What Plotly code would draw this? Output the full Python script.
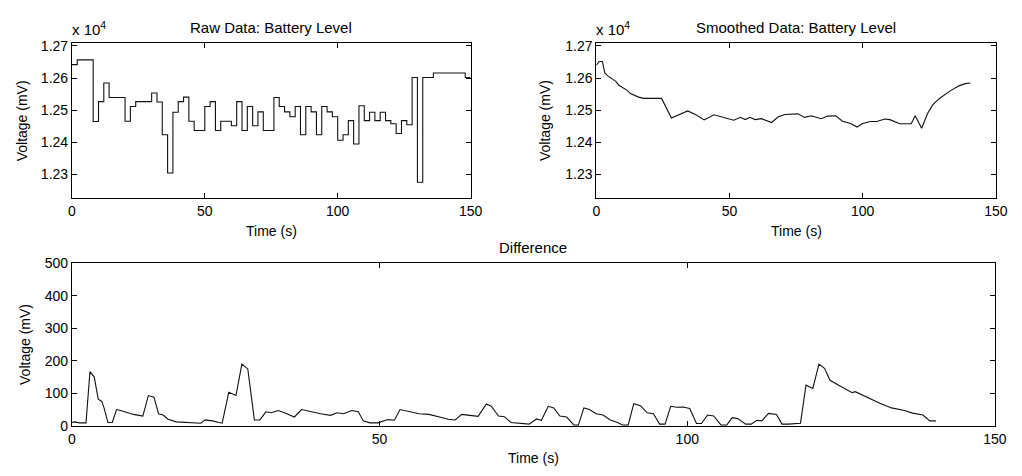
import plotly.graph_objects as go

# ---------------- data ----------------
raw_t = [0, 2, 8, 10, 12, 14, 20, 22, 24, 30, 32, 34, 36, 38, 40, 42, 44, 46, 50, 52,
         54, 56, 60, 62, 64, 66, 68, 70, 72, 76, 78, 80, 82, 84, 86, 88, 90, 92, 94, 96,
         98, 100, 102, 104, 106, 108, 110, 112, 114, 116, 118, 120, 122, 124, 126, 128,
         130, 132, 136, 148, 150]
raw_v = [12642, 12657, 12465, 12527, 12585, 12540, 12466, 12512, 12527, 12554, 12526,
         12424, 12305, 12494, 12527, 12541, 12466, 12437, 12512, 12527, 12437, 12466,
         12452, 12527, 12437, 12512, 12452, 12495, 12437, 12540, 12512, 12495, 12480,
         12512, 12424, 12512, 12495, 12424, 12512, 12495, 12480, 12407, 12424, 12468,
         12395, 12514, 12468, 12494, 12468, 12494, 12468, 12458, 12428, 12468, 12455,
         12602, 12276, 12602, 12616, 12602, 12602]

smooth_t = [0, 1.1, 2.3, 3.2, 4.2, 6.0, 7.3, 8.5, 10.3, 11.6, 12.8, 14.0, 15.9, 17.7,
            20.8, 24.5, 28.2, 31.3, 34.3, 37.4, 40.5, 44.2, 47.3, 51.6, 54.1, 55.9, 57.7,
            59.6, 62.0, 65.8, 68.3, 70.8, 75.7, 78.2, 80.7, 84.4, 86.8, 89.9, 92.4, 95.4,
            97.9, 99.8, 102.8, 105.3, 108.3, 110.2, 113.9, 118.2, 119.7, 122.1, 124.4,
            126.2, 128.7, 132.4, 136.1, 138.5, 140.4]
smooth_v = [12640, 12652, 12652, 12616, 12608, 12598, 12590, 12578, 12569, 12562, 12552,
            12547, 12541, 12537, 12537, 12537, 12476, 12488, 12498, 12486, 12470, 12486,
            12478, 12469, 12478, 12471, 12478, 12471, 12474, 12462, 12480, 12487, 12489,
            12478, 12483, 12474, 12482, 12483, 12466, 12459, 12448, 12458, 12465, 12465,
            12473, 12471, 12458, 12458, 12483, 12444, 12491, 12516, 12536, 12558, 12576,
            12583, 12585]

diff_t = [0, 0.43, 1.23, 2.29, 2.93, 3.63, 4.27, 4.85, 5.22, 5.86, 6.56, 7.25, 7.89, 8.96,
          10.02, 11.52, 12.42, 13.33, 14.08, 14.82, 15.62, 16.96, 19.36, 20.96, 21.65,
          22.82, 24.42, 25.49, 26.66, 27.62, 28.58, 29.65, 30.55, 31.51, 32.42, 33.49,
          34.55, 36.15, 37.32, 38.82, 40.42, 42.02, 43.09, 44.15, 45.48, 46.55, 47.35,
          48.42, 49.75, 51.35, 52.42, 53.32, 54.82, 56.42, 58.02, 59.61, 61.21, 62.28,
          63.35, 64.68, 66.01, 67.35, 68.15, 69.32, 70.28, 71.35, 72.95, 74.3, 75.5,
          76.3, 77.4, 78.3, 79.3, 80.4, 81.6, 82.3, 83.2, 84.1, 85.2, 86.3, 87.5, 88.7,
          89.5, 90.4, 91.3, 92.4, 93.5, 94.5, 95.5, 96.4, 97.3, 98.3, 99.3, 100.4, 101.5,
          102.3, 103.3, 104.3, 105.5, 106.4, 107.3, 108.2, 109.5, 110.4, 111.3, 112.1,
          113.2, 114.5, 115.4, 116.4, 118.4, 119.3, 120.4, 121.4, 122.3, 123.2, 124.9,
          126.8, 127.3, 128.1, 130.0, 131.3, 133.2, 135.3, 136.6, 138.3, 139.4, 140.4]
diff_v = [10, 12, 9, 9, 167, 150, 82, 75, 55, 10, 10, 50, 47, 40, 35, 30, 93, 88, 37, 33,
          20, 12, 10, 8, 18, 15, 8, 103, 93, 190, 175, 18, 18, 43, 40, 47, 40, 27, 50, 43,
          37, 32, 40, 37, 47, 43, 15, 9, 9, 19, 17, 50, 43, 37, 35, 28, 20, 18, 35, 32, 29,
          67, 60, 30, 28, 10, 8, 5, 21, 17, 60, 55, 30, 27, 2, 2, 55, 50, 37, 33, 18, 10,
          2, 2, 68, 62, 40, 37, 5, 5, 60, 57, 58, 53, 7, 7, 33, 30, 2, 2, 25, 22, 5, 5, 17,
          15, 38, 35, 5, 5, 8, 125, 115, 190, 177, 140, 122, 102, 105, 98, 80, 69, 55, 47,
          39, 33, 15, 15]

x_ticks = [0, 50, 100, 150]
top_y_ticks = [12300, 12400, 12500, 12600, 12700]
top_y_labels = ["1.23", "1.24", "1.25", "1.26", "1.27"]
diff_y_ticks = [0, 100, 200, 300, 400, 500]

titles = ["Raw Data: Battery Level", "Smoothed Data: Battery Level", "Difference"]

# ---------------- figure ----------------
W, H = 1022, 476
FONT = "Liberation Sans, Arial, Helvetica, sans-serif"


def px(x):
    return x / W


def py(y):
    return 1 - y / H


line = dict(color="#111111", width=1.1)
fig = go.Figure()
fig.add_trace(go.Scatter(x=raw_t, y=raw_v, mode="lines", line=dict(shape="hv", **line),
                         xaxis="x", yaxis="y", showlegend=False))
fig.add_trace(go.Scatter(x=smooth_t, y=smooth_v, mode="lines", line=line,
                         xaxis="x2", yaxis="y2", showlegend=False))
fig.add_trace(go.Scatter(x=diff_t, y=diff_v, mode="lines", line=line,
                         xaxis="x3", yaxis="y3", showlegend=False))

axis_common = dict(showline=True, linecolor="black", linewidth=1, mirror="ticks",
                   ticks="inside", ticklen=5, tickcolor="black", tickwidth=1,
                   showgrid=False, zeroline=False,
                   tickfont=dict(family=FONT, size=14, color="black"))

top_dom_y = [py(197), py(36)]
bot_dom_y = [py(432.3), py(264.3)]

fig.update_layout(
    width=W, height=H,
    margin=dict(l=0, r=0, t=0, b=0),
    paper_bgcolor="white", plot_bgcolor="white",
    font=dict(family=FONT, size=14, color="black"),
    xaxis=dict(domain=[px(69), px(474)], range=[0, 150], tickvals=x_ticks,
               anchor="y", **axis_common),
    yaxis=dict(domain=top_dom_y, range=[12226, 12710], tickvals=top_y_ticks,
               ticktext=top_y_labels, anchor="x", **axis_common),
    xaxis2=dict(domain=[px(601.7), px(1007.7)], range=[0, 150], tickvals=x_ticks,
                anchor="y2", **axis_common),
    yaxis2=dict(domain=top_dom_y, range=[12226, 12710], tickvals=top_y_ticks,
                ticktext=top_y_labels, anchor="x2", **axis_common),
    xaxis3=dict(domain=[px(69), px(1006.7)], range=[0, 150], tickvals=x_ticks,
                anchor="y3", **axis_common),
    yaxis3=dict(domain=bot_dom_y, range=[0, 500], tickvals=diff_y_ticks,
                anchor="x3", **axis_common),
)


def ann(text, x, y, angle=0, xanchor="center", yanchor="middle", size=14):
    fig.add_annotation(text=text, x=px(x), y=py(y), xref="paper", yref="paper",
                       showarrow=False, textangle=angle, xanchor=xanchor,
                       yanchor=yanchor, font=dict(family=FONT, size=size, color="black"))


ann(titles[0], 271.5, 20, size=15)
ann(titles[1], 804.7, 20, size=15)
ann(titles[2], 537.8, 248, size=15)
ann("Time (s)", 271.5, 231)
ann("Time (s)", 804.7, 231)
ann("Time (s)", 537.8, 466)
ann("Voltage (mV)", 18, 116.5, angle=-90)
ann("Voltage (mV)", 549, 116.5, angle=-90)
ann("Voltage (mV)", 22, 348, angle=-90)
ann("x 10<sup>4</sup>", 67, 33, xanchor="left", yanchor="bottom", size=15)
ann("x 10<sup>4</sup>", 599, 33, xanchor="left", yanchor="bottom", size=15)

fig.write_html(
    "out.html",
    config={"displayModeBar": False},
    post_script="document.body.style.margin='0';document.body.style.overflow='hidden';",
)
